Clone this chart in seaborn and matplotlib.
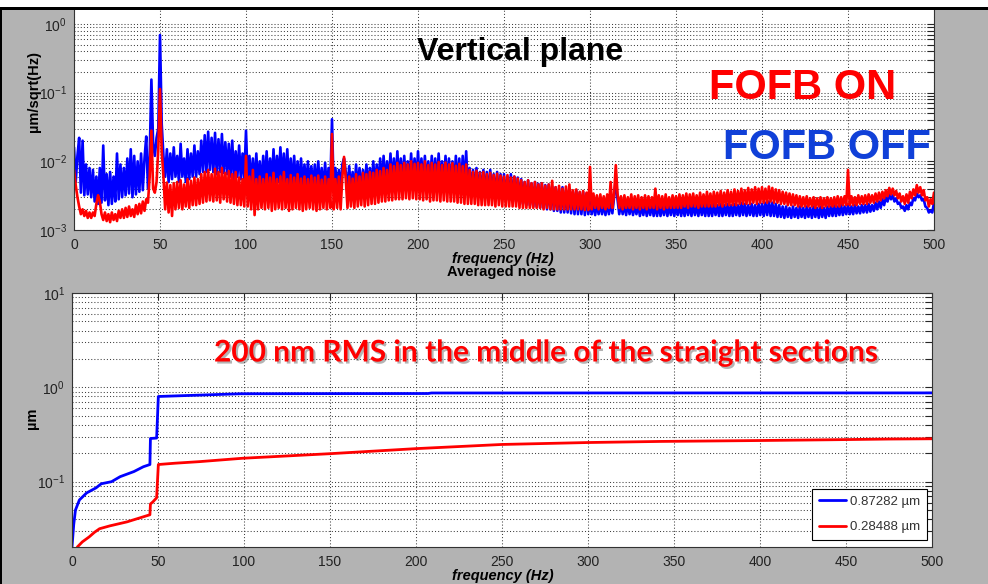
import numpy as np
import pandas as pd
import matplotlib
matplotlib.use("Agg")
import matplotlib.pyplot as plt
import matplotlib.patheffects as pe
from matplotlib.lines import Line2D
from matplotlib.patches import Rectangle
from matplotlib.ticker import LogLocator, NullFormatter
import seaborn as sns

# ---------------------------------------------------------------------------
# Beam position noise, vertical plane: amplitude spectral density (nm/sqrt(Hz))
# on a 1 Hz grid from 0 to 500 Hz, feedback off and on.
# ---------------------------------------------------------------------------
asd_off_nm = [
    16, 5, 12, 22, 3.5, 20, 3.2, 9, 3.3, 8,
    3, 7.5, 2.6, 6, 2.4, 8, 2.5, 17, 2.7, 6.5,
    2.3, 7, 2.4, 6, 2.6, 13, 2.8, 9, 3, 8,
    3.2, 11, 3.4, 15, 3, 12, 3.3, 10, 3.6, 13,
    3.8, 11, 23, 4, 12, 155, 18, 12, 22, 30,
    690, 35, 12, 6, 15, 5, 13, 5.5, 16, 6,
    12, 5, 18, 6, 11, 5, 15, 5.5, 13, 6,
    17, 6, 14, 6.5, 20, 7, 24, 7, 27, 7.5,
    22, 7, 26, 6.5, 21, 7, 25, 6.8, 19, 6.5,
    18, 6, 20, 5.5, 14, 6, 17, 5.5, 13, 5.5,
    28, 5, 12, 4.5, 11, 4.2, 13, 4.5, 10, 4.3,
    12, 4.5, 14, 4.2, 11, 4.8, 15, 4.5, 12, 5,
    16, 5, 13, 4.6, 15, 4.4, 11, 4.3, 12, 4.2,
    10, 4, 11, 4.2, 9, 4, 10, 3.8, 8.5, 4,
    9, 3.8, 10, 3.9, 8, 3.7, 9.5, 3.8, 8, 4,
    41, 3.6, 8, 3.8, 7.5, 3.6, 9, 11, 7, 3.8,
    8.5, 3.7, 7, 3.6, 9, 3.8, 8, 3.7, 7.5, 3.9,
    9, 4, 8, 3.9, 10, 4.1, 9, 4.2, 11, 4.3,
    12, 4.5, 10, 4.4, 13, 4.6, 11, 4.5, 14, 4.7,
    11, 4.6, 12, 4.5, 10, 4.4, 13, 4.6, 11, 4.5,
    14, 4.5, 11, 4.4, 12, 4.6, 10, 4.3, 12, 4.5,
    11, 4.4, 13, 4.5, 10, 4.2, 12, 4.4, 11, 4.3,
    10, 4.2, 12, 4.3, 11, 4.1, 12, 4.2, 14, 4,
    8, 3.8, 7.5, 3.6, 8, 3.5, 7, 3.4, 7.5, 3.3,
    7, 3.2, 7.5, 3.1, 6.5, 3, 7, 2.9, 6.5, 2.9,
    6.5, 2.8, 6, 2.7, 6.5, 2.7, 6, 2.6, 5.8, 2.5,
    5.5, 2.4, 5, 2.3, 5.3, 2.3, 4.8, 2.2, 5, 2.2,
    4.7, 2.1, 4.8, 2.1, 4.5, 2, 4.6, 2, 4.3, 1.9,
    4.2, 1.9, 4, 1.8, 4.2, 1.8, 3.8, 1.8, 4, 1.75,
    3.6, 1.7, 3.8, 1.7, 3.5, 1.7, 3.6, 1.65, 3.4, 1.7,
    2.6, 1.7, 2.5, 1.65, 2.4, 1.7, 2.5, 1.7, 2.4, 1.65,
    2.5, 1.7, 2.6, 1.75, 3, 5.7, 2.8, 1.7, 2.5, 1.7,
    2.4, 1.65, 2.5, 1.7, 2.4, 1.65, 2.3, 1.7, 2.4, 1.6,
    2.3, 1.65, 2.4, 1.6, 2.3, 1.65, 2.4, 1.6, 2.3, 1.6,
    2.4, 1.6, 2.3, 1.65, 2.4, 1.6, 2.3, 1.65, 2.4, 1.6,
    2.3, 1.65, 2.4, 1.6, 2.3, 1.6, 2.4, 1.65, 2.3, 1.6,
    2.4, 1.65, 2.3, 1.6, 2.4, 1.65, 2.3, 1.6, 2.4, 1.6,
    2.3, 1.6, 2.4, 1.65, 2.3, 1.6, 2.4, 1.6, 2.3, 1.65,
    2.4, 1.6, 2.3, 1.6, 2.4, 1.65, 2.3, 1.6, 2.5, 1.65,
    2.4, 1.6, 2.3, 1.65, 2.4, 1.6, 2.3, 1.6, 2.4, 1.65,
    2.4, 1.6, 2.5, 1.65, 2.6, 1.6, 2.5, 1.6, 2.4, 1.55,
    2.3, 1.55, 2.2, 1.5, 2.2, 1.55, 2.1, 1.5, 2.2, 1.55,
    2.1, 1.5, 2.2, 1.55, 2.1, 1.5, 2.2, 1.55, 2.1, 1.5,
    2.2, 1.55, 2.1, 1.5, 2.2, 1.55, 2.1, 1.5, 2.2, 1.6,
    2.2, 1.6, 2.3, 1.6, 2.2, 1.65, 2.3, 1.65, 2.2, 1.7,
    2.3, 1.7, 2.2, 1.7, 2.3, 1.75, 2.2, 1.75, 2.3, 1.8,
    2.3, 1.8, 2.4, 1.85, 2.3, 1.9, 2.5, 2.0, 2.6, 2.1,
    2.8, 2.3, 3.0, 2.6, 3.3, 2.8, 3.2, 2.6, 2.9, 2.4,
    2.5, 2.1, 2.2, 1.9, 2.3, 2.0, 2.5, 2.3, 2.9, 2.7,
    3.4, 3.0, 3.2, 2.7, 2.8, 2.2, 2.1, 1.8, 1.9, 1.8,
    2.5,
]

asd_on_nm = [
    7.5, 4.5, 3, 2.2, 1.7, 2.0, 1.6, 1.9, 1.5, 1.8,
    1.5, 1.8, 1.6, 2.4, 3.2, 2.6, 1.7, 1.4, 1.8, 1.35,
    1.7, 1.3, 1.8, 1.4, 1.7, 1.35, 1.9, 1.5, 2.0, 1.5,
    2.1, 1.55, 2.2, 1.6, 2.0, 1.55, 2.3, 1.7, 2.4, 1.75,
    2.6, 1.9, 2.8, 2.5, 6, 28, 4, 3.5, 5, 15,
    113, 14, 6, 2.0, 4.9, 1.8, 4.5, 1.6, 4.8, 2.0,
    5, 2.1, 5.3, 2.0, 4.6, 2.2, 5.5, 2.1, 5.2, 2.3,
    5.8, 2.3, 5.5, 2.4, 6.5, 2.5, 7, 2.6, 7.5, 2.7,
    6.5, 2.6, 7.8, 2.7, 7, 2.5, 8, 2.8, 6.8, 2.6,
    7.2, 2.5, 6.5, 2.4, 7, 2.3, 5.8, 2.3, 5.5, 2.2,
    12, 2.2, 6, 2.0, 7.5, 1.65, 5.5, 2.0, 6, 2.1,
    5.5, 2.0, 6.5, 2.1, 5.8, 1.9, 6.8, 2.0, 5.5, 2.1,
    6, 2.0, 7, 2.1, 5.5, 1.9, 6.3, 2.0, 5.8, 2.1,
    6.5, 2.0, 5.6, 1.9, 6, 2.0, 5.5, 2.1, 6.2, 2.0,
    5.8, 1.9, 6.2, 2.0, 5.4, 2.1, 6, 2.0, 5.5, 2.1,
    25, 2.0, 5.5, 2.1, 6, 2.0, 5.8, 11.6, 5.5, 2.1,
    6, 2.2, 5.6, 2.1, 6.5, 2.2, 6, 2.3, 6.8, 2.2,
    6.5, 2.3, 7, 2.4, 6.8, 2.4, 7.5, 2.5, 7.2, 2.6,
    8, 2.6, 7.5, 2.7, 9, 2.7, 8.5, 2.8, 9.5, 2.8,
    8.8, 2.8, 9.5, 2.9, 9, 2.8, 10, 2.9, 9.2, 2.8,
    9.5, 2.8, 9, 2.7, 10, 2.8, 8.8, 2.6, 9.5, 2.7,
    9, 2.7, 9.8, 2.6, 8.8, 2.7, 9.6, 2.6, 9, 2.6,
    9.4, 2.6, 8.6, 2.5, 9.2, 2.5, 8.5, 2.4, 9, 2.4,
    7.5, 2.4, 7, 2.4, 7.3, 2.3, 6.8, 2.3, 7, 2.3,
    6.5, 2.3, 6.8, 2.3, 6.3, 2.2, 6.6, 2.3, 6.2, 2.2,
    6, 2.2, 6.3, 2.2, 5.8, 2.2, 6, 2.2, 5.6, 2.1,
    5.3, 2.1, 5, 2.1, 5.3, 2.1, 4.8, 2.1, 5, 2.1,
    4.6, 2.1, 4.8, 2.0, 4.4, 2.1, 4.6, 2.0, 5.2, 2.0,
    4.2, 2.0, 4.4, 2.0, 4, 2.0, 4.3, 2.0, 4.6, 2.0,
    3.8, 2.0, 3.9, 2.0, 3.6, 2.0, 3.7, 1.95, 3.5, 1.95,
    8.3, 2.0, 3.4, 2.1, 3.2, 2.0, 3.3, 2.1, 3.1, 2.0,
    3.3, 2.1, 5, 2.1, 3.2, 8.8, 3.4, 2.1, 3.1, 2.0,
    3.2, 2.1, 3.0, 2.1, 3.3, 2.0, 3.1, 2.1, 3.2, 2.0,
    3.0, 2.1, 3.2, 2.0, 3.1, 2.1, 3.0, 2.1, 4, 2.0,
    3.2, 2.1, 3.1, 2.0, 3.3, 2.1, 3.0, 2.1, 3.2, 2.1,
    3.1, 2.1, 3.3, 2.1, 3.2, 2.2, 3.4, 2.1, 3.3, 2.2,
    3.4, 2.2, 3.2, 2.1, 3.5, 2.2, 3.3, 2.2, 3.6, 2.2,
    3.4, 2.2, 3.6, 2.2, 3.5, 2.3, 3.7, 2.2, 3.5, 2.3,
    3.8, 2.3, 3.6, 2.3, 3.9, 2.3, 3.7, 2.4, 4.0, 2.4,
    3.8, 2.4, 4.1, 2.4, 3.9, 2.5, 4.2, 2.4, 4.0, 2.5,
    4.2, 2.5, 4.0, 2.5, 4.3, 2.6, 4.1, 2.5, 3.9, 2.5,
    3.8, 2.4, 3.6, 2.4, 3.5, 2.3, 3.4, 2.3, 3.3, 2.3,
    3.2, 2.2, 3.1, 2.2, 3.0, 2.2, 3.1, 2.2, 2.9, 2.2,
    3.0, 2.1, 2.9, 2.2, 3.0, 2.1, 2.9, 2.2, 3.0, 2.2,
    2.9, 2.2, 3.0, 2.2, 3.1, 2.2, 3.0, 2.3, 3.1, 2.3,
    7.5, 2.3, 3.1, 2.3, 3.0, 2.3, 3.2, 2.4, 3.1, 2.4,
    3.2, 2.4, 3.3, 2.5, 3.2, 2.5, 3.4, 2.6, 3.5, 2.7,
    3.6, 2.9, 3.8, 3.1, 4.1, 3.3, 4.0, 3.2, 3.7, 2.9,
    3.4, 2.6, 3.1, 2.4, 3.3, 2.5, 3.6, 2.9, 3.9, 3.2,
    4.5, 3.5, 4.2, 3.2, 3.8, 2.7, 3.0, 2.2, 2.8, 2.4,
    3.5,
]

# Integrated (cumulative) RMS motion in µm versus upper frequency bound
cum_freq_off = [0, 1, 2, 4.3, 8.5, 14, 17, 23, 28, 36, 41.5, 45.3, 45.6,
                49.2, 50.2, 59, 98, 150, 207, 209, 300, 400, 500]
cum_rms_off = [0.0203, 0.035, 0.05, 0.064, 0.076, 0.086, 0.095, 0.100, 0.113,
               0.128, 0.144, 0.152, 0.287, 0.290, 0.800, 0.810, 0.855, 0.858,
               0.860, 0.871, 0.872, 0.8725, 0.87282]
cum_freq_on = [3.1, 6, 10, 13, 16, 22, 32, 45.3, 45.6, 47, 49.2, 50.2, 60, 74,
               99, 150, 200, 250, 300, 342, 400, 440, 475, 500]
cum_rms_on = [0.0203, 0.023, 0.026, 0.029, 0.0317, 0.034, 0.0375, 0.0446,
              0.058, 0.061, 0.0675, 0.152, 0.157, 0.163, 0.177, 0.198, 0.224,
              0.248, 0.260, 0.267, 0.273, 0.278, 0.283, 0.28488]

freq_ticks = [0, 50, 100, 150, 200, 250, 300, 350, 400, 450, 500]
modes = ["FOFB OFF", "FOFB ON"]
mode_colors = {"FOFB OFF": "#0000ff", "FOFB ON": "#ff0000"}

# ---------------------------------------------------------------------------
sns.set_theme(style="white")
plt.rcParams["font.family"] = ["Liberation Sans", "DejaVu Sans"]
plt.rcParams["mathtext.fontset"] = "custom"
plt.rcParams["mathtext.rm"] = "Liberation Sans"
plt.rcParams["mathtext.it"] = "Liberation Sans:italic"
plt.rcParams["mathtext.bf"] = "Liberation Sans:bold"
plt.rcParams["mathtext.default"] = "regular"

W, H = 988, 584
fig = plt.figure(figsize=(W / 100, H / 100), dpi=100, facecolor="#b3b3b3")


def fx(px):
    return px / W


def fy(py):
    return 1 - py / H


ax1 = fig.add_axes([fx(74), fy(230), (934 - 74) / W, (230 - 9) / H])
ax2 = fig.add_axes([fx(72), fy(547), (932 - 72) / W, (547 - 293) / H])

freq_hz = np.arange(len(asd_off_nm))
spec = pd.DataFrame({
    "freq": np.concatenate([freq_hz, freq_hz]),
    "asd": np.concatenate([asd_off_nm, asd_on_nm]) * 1e-3,
    "mode": [modes[0]] * len(freq_hz) + [modes[1]] * len(freq_hz),
})
sns.lineplot(data=spec, x="freq", y="asd", hue="mode", hue_order=modes,
             palette=mode_colors, estimator=None, sort=False, lw=1.9,
             legend=False, ax=ax1)

cum = pd.DataFrame({
    "freq": cum_freq_off + cum_freq_on,
    "rms": cum_rms_off + cum_rms_on,
    "mode": [modes[0]] * len(cum_freq_off) + [modes[1]] * len(cum_freq_on),
})
sns.lineplot(data=cum, x="freq", y="rms", hue="mode", hue_order=modes,
             palette=mode_colors, estimator=None, sort=False, lw=2.0,
             legend=False, ax=ax2)


def style_axis(ax, ylim):
    ax.set_facecolor("white")
    ax.set_yscale("log")
    ax.set_xlim(0, 500)
    ax.set_ylim(*ylim)
    ax.set_xticks(freq_ticks)
    ax.yaxis.set_major_locator(LogLocator(base=10, numticks=12))
    ax.yaxis.set_minor_locator(LogLocator(base=10, subs=np.arange(2, 10), numticks=12))
    ax.yaxis.set_minor_formatter(NullFormatter())
    grid_kw = dict(ls=(0, (1, 2)), lw=0.75, color="0.25")
    ax.grid(True, which="major", axis="both", **grid_kw)
    ax.grid(True, which="minor", axis="y", **grid_kw)
    ax.tick_params(which="both", direction="in", top=True, right=True,
                   length=5, width=0.8, color="0.15", labelcolor="#222222",
                   labelsize=10)
    ax.tick_params(axis="x", pad=6)
    ax.tick_params(axis="y", pad=5)
    for s in ax.spines.values():
        s.set_color("0.2")
        s.set_linewidth(0.8)
    ax.set_xlabel("frequency (Hz)", fontsize=10.5, fontstyle="italic",
                  fontweight="bold", color="black")


style_axis(ax1, (1e-3, 10 ** 0.218))
style_axis(ax2, (0.0203, 10))
ax1.tick_params(top=False)
ax1.spines["top"].set_visible(False)

ax1.set_ylabel("µm/sqrt(Hz)", fontsize=10.5, fontweight="bold", color="black")
ax1.yaxis.set_label_coords((41 - 74) / 860, (230 - 92) / 221)
ax1.xaxis.set_label_coords((503 - 74) / 860, (230 - 252) / 221)

ax2.set_ylabel("µm", fontsize=10.5, fontweight="bold", color="black")
ax2.yaxis.set_label_coords((39 - 72) / 860, (547 - 418) / 254)
ax2.xaxis.set_label_coords((503 - 72) / 860, (547 - 569) / 254)
ax2.set_title("Averaged noise", fontsize=10.5, fontweight="bold",
              color="black", y=(547 - 276) / 254, pad=0)

# legend with the total integrated RMS of each curve
handles = [Line2D([], [], color=mode_colors[m], lw=2.0) for m in modes]
labels = [f"{cum_rms_off[-1]:.5f} µm", f"{cum_rms_on[-1]:.5f} µm"]
leg = ax2.legend(handles, labels, loc="lower right",
                 bbox_to_anchor=((927 - 72) / 860, (547 - 540) / 254),
                 borderaxespad=0, frameon=True, fancybox=False,
                 edgecolor="black", framealpha=1, fontsize=9.5,
                 handlelength=2.1, handletextpad=0.3, labelspacing=1.0,
                 borderpad=0.5)
leg.get_frame().set_linewidth(0.8)
for t in leg.get_texts():
    t.set_color("#333333")

# annotations
fig.text(fx(520), fy(60), "Vertical plane", ha="center", va="baseline",
         fontsize=23, fontweight="bold", color="black")
fig.text(fx(709), fy(99), "FOFB ON", ha="left", va="baseline",
         fontsize=30, fontweight="bold", color="#ff0000")
fig.text(fx(723), fy(158.5), "FOFB OFF", ha="left", va="baseline",
         fontsize=30, fontweight="bold", color="#1040d8")
fig.text(fx(214), fy(361.5), "200 nm RMS in the middle of the straight sections",
         ha="left", va="baseline", fontsize=21.5, fontweight="bold",
         family=["Lato", "DejaVu Sans"], color="#ff0000",
         path_effects=[pe.withSimplePatchShadow(offset=(1.5, -1.5),
                                                shadow_rgbFace="0.35",
                                                alpha=0.45)])

# slide frame: white strip with a black rule on top, black rule on the left
fig.add_artist(Rectangle((0, fy(7.5)), 1, 7.5 / H, transform=fig.transFigure,
                         facecolor="white", edgecolor="none", zorder=10))
fig.add_artist(Rectangle((0, fy(9.5)), 1, 2.2 / H, transform=fig.transFigure,
                         facecolor="black", edgecolor="none", zorder=11))
fig.add_artist(Rectangle((0, 0), 2 / W, fy(7.5), transform=fig.transFigure,
                         facecolor="black", edgecolor="none", zorder=11))

fig.savefig("out.png", dpi=100, facecolor=fig.get_facecolor())
